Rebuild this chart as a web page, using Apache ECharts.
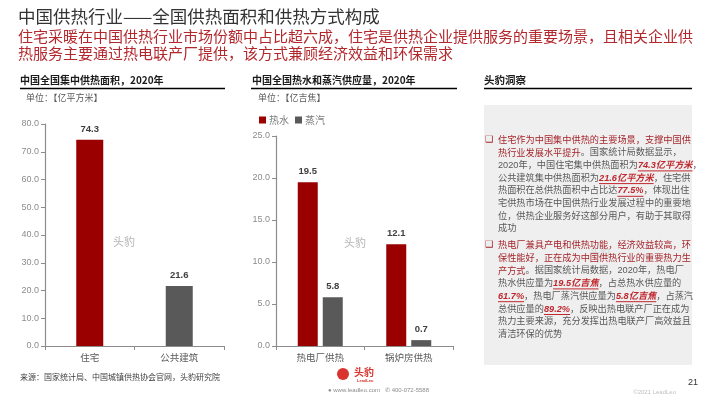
<!DOCTYPE html>
<html>
<head>
<meta charset="utf-8">
<style>
  html, body { margin: 0; padding: 0; background: #fff; }
  #main { width: 710px; height: 399px; }
</style>
<script src="https://cdn.jsdelivr.net/npm/echarts@6/dist/echarts.min.js"></script>
</head>
<body>
<div id="main"></div>
<script>
  // chart 1: 集中供热面积
  const areaCats = ['住宅', '公共建筑']
  const areaVals = [74.3, 21.6]
  const areaTicks = [0, 10, 20, 30, 40, 50, 60, 70, 80]
  // chart 2: 热水 / 蒸汽 供应量
  const supplyCats = ['热电厂供热', '锅炉房供热']
  const hotWater = [19.5, 12.1]
  const steam = [5.8, 0.7]
  const supplyTicks = [0, 5, 10, 15, 20, 25]

  const RED = '#9a0000'
  const GRAY = '#595959'
  const AXIS = '#8c8c8c'
  const CJK = '"Noto Sans CJK SC", sans-serif'
  const LAT = '"Liberation Sans", "Noto Sans CJK SC", sans-serif'

  // right panel text, one entry per line: [text, kind]
  // h = red lead sentence, n = normal, e = emphasised number
  const para1 = [
    [['住宅作为中国集中供热的主要场景，支撑中国供', 'h']],
    [['热行业发展水平提升', 'h'], ['。国家统计局数据显示，', 'n']],
    [['2020年，中国住宅集中供热面积为', 'n'], ['74.3亿平方米', 'e'], ['，', 'n']],
    [['公共建筑集中供热面积为', 'n'], ['21.6亿平方米', 'e'], ['，住宅供', 'n']],
    [['热面积在总供热面积中占比达', 'n'], ['77.5%', 'e'], ['，体现出住', 'n']],
    [['宅供热市场在中国供热行业发展过程中的重要地', 'n']],
    [['位，供热企业服务好这部分用户，有助于其取得', 'n']],
    [['成功', 'n']]
  ]
  const para2 = [
    [['热电厂兼具产电和供热功能，经济效益较高，环', 'h']],
    [['保性能好，正在成为中国供热行业的重要热力生', 'h']],
    [['产方式', 'h'], ['。据国家统计局数据，2020年，热电厂', 'n']],
    [['热水供应量为', 'n'], ['19.5亿吉焦', 'e'], ['，占总热水供应量的', 'n']],
    [['61.7%', 'e'], ['，热电厂蒸汽供应量为', 'n'], ['5.8亿吉焦', 'e'], ['，占蒸汽', 'n']],
    [['总供应量的', 'n'], ['89.2%', 'e'], ['，反映出热电联产厂正在成为', 'n']],
    [['热力主要来源，充分发挥出热电联产厂高效益且', 'n']],
    [['清洁环保的优势', 'n']]
  ]

  const fonts = {
    h: { font: '9.2px ' + CJK, fill: '#a5262b' },
    n: { font: '9.2px ' + LAT, fill: '#595959' },
    e: { font: 'italic bold 9.2px ' + LAT, fill: '#c0272d' }
  }

  const measure = document.createElement('canvas').getContext('2d')
  function textWidth(str, font) {
    measure.font = font
    return measure.measureText(str).width
  }

  function paragraph(lines, x0, y0, lh) {
    const out = []
    lines.forEach((segs, i) => {
      let x = x0
      const y = y0 + i * lh
      segs.forEach(([t, k]) => {
        const f = fonts[k]
        out.push({
          type: 'text', x: x, y: y,
          style: { text: t, font: f.font, fill: f.fill, textVerticalAlign: 'middle' }
        })
        const w = textWidth(t, f.font)
        if (k === 'e') {
          out.push({
            type: 'line',
            shape: { x1: x, y1: y + 5.5, x2: x + w, y2: y + 5.5 },
            style: { stroke: '#c0272d', lineWidth: 1 }
          })
        }
        x += w
      })
    })
    return out
  }

  function txt(x, y, text, font, fill, align) {
    return {
      type: 'text', x: x, y: y,
      style: { text: text, font: font, fill: fill, textAlign: align || 'left', textVerticalAlign: 'middle' }
    }
  }
  function hline(x1, x2, y, color, w) {
    return { type: 'line', shape: { x1: x1, y1: y, x2: x2, y2: y }, style: { stroke: color, lineWidth: w } }
  }

  const graphics = [
    txt(18, 16, '中国供热行业——全国供热面积和供热方式构成', '17.5px ' + CJK, '#333333'),
    txt(18, 36, '住宅采暖在中国供热行业市场份额中占比超六成，住宅是供热企业提供服务的重要场景，且相关企业供', '15px ' + CJK, '#b3282d'),
    txt(18, 53, '热服务主要通过热电联产厂提供，该方式兼顾经济效益和环保需求', '15px ' + CJK, '#b3282d'),

    txt(20, 80, '中国全国集中供热面积，2020年', 'bold 10px ' + CJK, '#1a1a1a'),
    hline(20, 225, 88.5, '#000', 1.5),
    txt(26, 98, '单位：【亿平方米】', '9px ' + CJK, '#595959'),

    txt(252, 80, '中国全国热水和蒸汽供应量，2020年', 'bold 10px ' + CJK, '#1a1a1a'),
    hline(251, 457, 88.5, '#000', 1.5),
    txt(258, 98, '单位：【亿吉焦】', '9px ' + CJK, '#595959'),

    txt(484, 80, '头豹洞察', 'bold 10.5px ' + CJK, '#1a1a1a'),
    hline(484, 692, 88.5, '#000', 1.5),
    { type: 'rect', shape: { x: 484, y: 105, width: 208, height: 260 }, style: { fill: '#efeff0' }, z: -1 },
    txt(485, 140, '❑', '9px "DejaVu Sans"', '#a5262b'),
    txt(485, 245, '❑', '9px "DejaVu Sans"', '#a5262b'),

    // watermarks
    txt(124, 242, '头豹', '11px ' + CJK, '#b5b5b5', 'center'),
    txt(355, 243, '头豹', '11px ' + CJK, '#b5b5b5', 'center'),
    txt(600, 252, '头豹', '10px ' + CJK, '#d0d0d0', 'center'),

    // footer
    txt(20, 377, '来源：国家统计局、中国城镇供热协会官网，头豹研究院', '8px ' + CJK, '#404040'),
    { type: 'circle', shape: { cx: 343, cy: 374, r: 6 }, style: { fill: '#d9332e' } },
    txt(354, 372, '头豹', 'bold 10px ' + CJK, '#d9332e'),
    txt(357, 381, 'LeadLeo', 'bold 4px ' + LAT, '#d9332e'),
    txt(328, 390, '● www.leadleo.com   ✆ 400-072-5588', '6px ' + LAT, '#8c8c8c'),
    txt(698, 383, '21', '9px ' + LAT, '#333333', 'right'),
    txt(676, 392, '©2021 LeadLeo', '6px ' + LAT, '#c0c0c0', 'right')
  ].concat(paragraph(para1, 498, 140, 12.7), paragraph(para2, 498, 245, 12.8))

  const labelStyle = { show: true, position: 'top', color: '#404040', fontSize: 9.5, fontWeight: 'bold', fontFamily: LAT, distance: 6 }

  const yAxisBase = {
    type: 'value',
    axisLine: { show: true, lineStyle: { color: AXIS, width: 1.2 } },
    axisTick: { show: true, length: 4, lineStyle: { color: AXIS } },
    splitLine: { show: false },
    axisLabel: { color: '#8c8c8c', fontSize: 9, fontFamily: LAT, margin: 6, formatter: v => v.toFixed(1) }
  }
  const xAxisBase = {
    type: 'category',
    axisLine: { lineStyle: { color: AXIS, width: 1.2 } },
    axisTick: { show: true, length: 4, lineStyle: { color: AXIS } },
    axisLabel: { color: '#595959', fontSize: 9.5, fontFamily: CJK, margin: 7 }
  }

  const option = {
    animation: false,
    textStyle: { fontFamily: LAT },
    grid: [
      { left: 45, right: 486, top: 124, bottom: 53 },
      { left: 276, right: 257, top: 136, bottom: 53 }
    ],
    legend: {
      data: ['热水', '蒸汽'],
      left: 254, top: 110,
      icon: 'rect', itemWidth: 7, itemHeight: 7, itemGap: 6,
      textStyle: { color: '#7f7f7f', fontSize: 10, fontFamily: CJK, padding: [0, 0, 0, -2] }
    },
    xAxis: [
      Object.assign({}, xAxisBase, { gridIndex: 0, data: areaCats }),
      Object.assign({}, xAxisBase, { gridIndex: 1, data: supplyCats })
    ],
    yAxis: [
      Object.assign({}, yAxisBase, { gridIndex: 0, min: areaTicks[0], max: areaTicks[areaTicks.length - 1], interval: areaTicks[1] - areaTicks[0] }),
      Object.assign({}, yAxisBase, { gridIndex: 1, min: supplyTicks[0], max: supplyTicks[supplyTicks.length - 1], interval: supplyTicks[1] - supplyTicks[0] })
    ],
    series: [
      {
        name: '面积', type: 'bar', xAxisIndex: 0, yAxisIndex: 0, barWidth: 27,
        data: areaVals.map((v, i) => ({ value: v, itemStyle: { color: i === 0 ? RED : GRAY } })),
        label: labelStyle
      },
      {
        name: '热水', type: 'bar', xAxisIndex: 1, yAxisIndex: 1, barWidth: 20, barGap: '25%',
        itemStyle: { color: RED }, data: hotWater, label: labelStyle
      },
      {
        name: '蒸汽', type: 'bar', xAxisIndex: 1, yAxisIndex: 1, barWidth: 20, barGap: '25%',
        itemStyle: { color: GRAY }, data: steam, label: labelStyle
      }
    ],
    graphic: { elements: graphics }
  }

  const chart = echarts.init(document.getElementById('main'), null, { renderer: 'canvas' })
  chart.setOption(option)
</script>
</body>
</html>
